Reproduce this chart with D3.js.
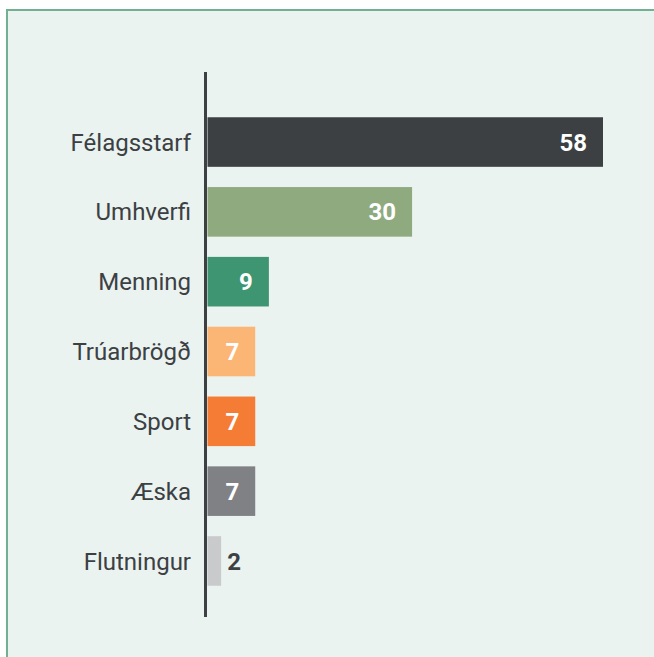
<!DOCTYPE html>
<html lang="en">
    <head>
        <meta charset="UTF-8" />
        <title>Bar chart</title>
        <script src="https://d3js.org/d3.v7.js"></script>
    </head>

    <body>
        <div id="dataviz"></div>
    </body>

    <script>
        const categories = ["Félagsstarf", "Umhverfi", "Menning", "Trúarbrögð", "Sport", "Æska", "Flutningur"];
        const values = [58, 30, 9, 7, 7, 7, 2];
        const colors = ["#3c4043", "#8eaa7e", "#3d9571", "#fbb574", "#f47c34", "#808184", "#c9cacb"];

        const data = categories.map((c, i) => ({cat: c, value: values[i], color: colors[i]}));

        const svg = d3.select("#dataviz")
            .append("svg")
            .attr("width", 654)
            .attr("height", 657);

        // panel
        svg.append("rect")
            .attr("x", 7)
            .attr("y", 10)
            .attr("width", 700)
            .attr("height", 700)
            .attr("fill", "#eaf3f0")
            .attr("stroke", "#72b094")
            .attr("stroke-width", 2);

        const axisX = 205.5;

        const x = d3.scaleLinear()
            .domain([0, 58])
            .range([axisX + 2, 603]);

        const y = d3.scaleBand()
            .domain(categories)
            .range([97, 606])
            .padding(0.29);

        svg.selectAll(".bar")
            .data(data)
            .join("rect")
            .attr("class", "bar")
            .attr("x", x(0))
            .attr("y", d => y(d.cat))
            .attr("width", d => x(d.value) - x(0))
            .attr("height", y.bandwidth())
            .attr("fill", d => d.color);

        // axis line
        svg.append("line")
            .attr("x1", axisX).attr("x2", axisX)
            .attr("y1", 72).attr("y2", 617)
            .attr("stroke", "#3c4043")
            .attr("stroke-width", 3);

        // category labels
        svg.selectAll(".cat")
            .data(data)
            .join("text")
            .attr("class", "cat")
            .attr("x", 191)
            .attr("y", d => y(d.cat) + y.bandwidth() / 2)
            .attr("dy", "0.36em")
            .attr("text-anchor", "end")
            .style("font-family", "Roboto, sans-serif")
            .style("font-size", "24px")
            .style("fill", "#3c4043")
            .text(d => d.cat);

        // value labels
        svg.selectAll(".val")
            .data(data)
            .join("text")
            .attr("class", "val")
            .attr("x", d => d.value > 3 ? x(d.value) - 16 : x(d.value) + 6)
            .attr("y", d => y(d.cat) + y.bandwidth() / 2)
            .attr("dy", "0.36em")
            .attr("text-anchor", d => d.value > 3 ? "end" : "start")
            .style("font-family", "Roboto, sans-serif")
            .style("font-size", "24px")
            .style("font-weight", "bold")
            .style("fill", d => d.value > 3 ? "#ffffff" : "#3c4043")
            .text(d => d.value);
    </script>

    <style>
        body { margin: 0; }
        svg { display: block; }
    </style>
</html>
